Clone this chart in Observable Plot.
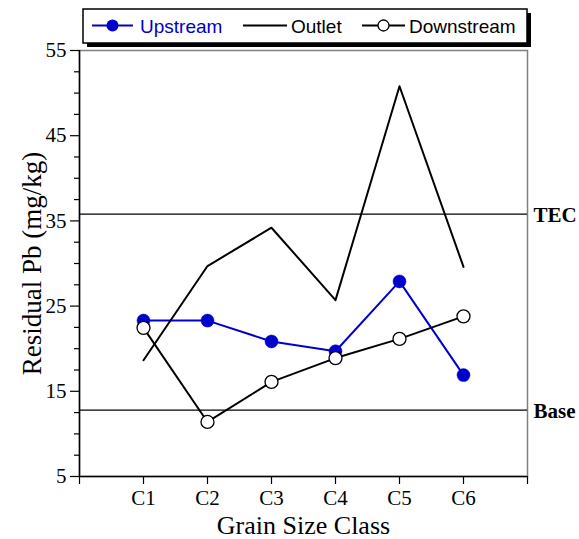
<!DOCTYPE html>
<html>
<head>
<meta charset="utf-8">
<script src="https://cdn.jsdelivr.net/npm/d3@7"></script>
<script src="https://cdn.jsdelivr.net/npm/@observablehq/plot@0.6"></script>
<style>
  body { margin: 0; background: #fff; }
  #chart { position: relative; width: 579px; height: 539px; }
  #legend { position: absolute; left: 0; top: 0; }
</style>
</head>
<body>
<div id="chart"></div>
<script>
// Residual Pb (mg/kg) by grain size class at three sampling sites
const classes = ["C1", "C2", "C3", "C4", "C5", "C6"];
const upstream = [23.3, 23.3, 20.85, 19.7, 27.9, 16.9];
const outlet = [18.65, 29.7, 34.2, 25.7, 50.8, 29.6];
const downstream = [22.45, 11.4, 16.1, 18.9, 21.15, 23.8];
const seriesNames = ["Upstream", "Outlet", "Downstream"];
const yMajorTicks = [5, 15, 25, 35, 45, 55];
const yMinorTicks = [7.5, 10, 12.5, 17.5, 20, 22.5, 27.5, 30, 32.5, 37.5, 40, 42.5, 47.5, 50, 52.5];
const thresholdLabels = ["TEC", "Base"];
const thresholdValues = [35.8, 12.8];

const blue = "#0000cc";
const serif = "'Liberation Serif', 'Times New Roman', serif";
const sans = "'Liberation Sans', Arial, sans-serif";

const rows = (values) => classes.map((c, i) => ({cls: c, pos: i + 1, value: values[i]}));
const upRows = rows(upstream);
const outRows = rows(outlet);
const downRows = rows(downstream);
const thresholds = thresholdLabels.map((label, i) => ({label, value: thresholdValues[i]}));

const W = 579, H = 539;
const mL = 79, mR = 52, mT = 50, mB = 63;

const chart = Plot.plot({
  width: W,
  height: H,
  marginLeft: mL,
  marginRight: mR,
  marginTop: mT,
  marginBottom: mB,
  style: {fontFamily: serif, fontSize: "21px", color: "#000", background: "#fff", overflow: "visible"},
  x: {type: "linear", domain: [0, 7], axis: null},
  y: {type: "linear", domain: [5, 55], axis: null},
  marks: [
    Plot.frame({stroke: "#808080", strokeWidth: 1.5}),
    // threshold reference lines
    Plot.ruleY(thresholds, {y: "value", stroke: "#000", strokeWidth: 1.2}),
    Plot.text(thresholds, {x: 7, y: "value", text: "label", textAnchor: "start", lineAnchor: "middle",
      dx: 6, dy: 1.5, fontWeight: "bold", fontSize: 21, fill: "#000"}),
    // axes
    Plot.axisY(yMinorTicks, {tickSize: 5, tickFormat: () => "", label: null, strokeWidth: 1.2}),
    Plot.axisY(yMajorTicks, {tickSize: 9, tickPadding: 4, label: null, fontSize: 21, strokeWidth: 1.2}),
    Plot.axisX(d3.range(0, 8), {tickSize: 8, tickPadding: 6, label: null, fontSize: 21, strokeWidth: 1.2,
      tickFormat: (d) => (d >= 1 && d <= classes.length ? classes[d - 1] : "")}),
    Plot.ruleX([0], {stroke: "#000", strokeWidth: 1.5}),
    Plot.ruleY([5], {stroke: "#000", strokeWidth: 1.5}),
    // axis titles
    Plot.text(["Grain Size Class"], {frameAnchor: "bottom", textAnchor: "middle", lineAnchor: "middle",
      dy: 49, fontSize: 26, fill: "#000"}),
    Plot.text(["Residual Pb (mg/kg)"], {frameAnchor: "left", textAnchor: "middle", lineAnchor: "middle",
      dx: -47, rotate: -90, fontSize: 27, fill: "#000"}),
    // series
    Plot.line(upRows, {x: "pos", y: "value", stroke: blue, strokeWidth: 2}),
    Plot.dot(upRows, {x: "pos", y: "value", r: 6.5, fill: blue, stroke: blue, strokeWidth: 0.5}),
    Plot.line(outRows, {x: "pos", y: "value", stroke: "#000", strokeWidth: 2}),
    Plot.line(downRows, {x: "pos", y: "value", stroke: "#000", strokeWidth: 2}),
    Plot.dot(downRows, {x: "pos", y: "value", r: 6.5, fill: "#fff", stroke: "#000", strokeWidth: 1.3})
  ]
});

const holder = document.getElementById("chart");
holder.appendChild(chart);

// Legend box with drop shadow
const legend = d3.create("svg")
  .attr("id", "legend")
  .attr("width", W)
  .attr("height", 50);

legend.append("rect").attr("x", 87).attr("y", 13).attr("width", 444).attr("height", 34).attr("fill", "#000");
legend.append("rect").attr("x", 83).attr("y", 9).attr("width", 444).attr("height", 34)
  .attr("fill", "#fff").attr("stroke", "#000").attr("stroke-width", 1.5);

const items = [
  {name: seriesNames[0], color: blue, x1: 92, x2: 133, marker: "filled", tx: 140},
  {name: seriesNames[1], color: "#000", x1: 243, x2: 287, marker: null, tx: 291},
  {name: seriesNames[2], color: "#000", x1: 362, x2: 405, marker: "open", tx: 409}
];
const ly = 25.5;
for (const it of items) {
  const g = legend.append("g");
  g.append("line").attr("x1", it.x1).attr("x2", it.x2).attr("y1", ly).attr("y2", ly)
    .attr("stroke", it.color).attr("stroke-width", 2);
  const cx = (it.x1 + it.x2) / 2;
  if (it.marker === "filled") {
    g.append("circle").attr("cx", cx).attr("cy", ly).attr("r", 6).attr("fill", it.color);
  } else if (it.marker === "open") {
    g.append("circle").attr("cx", cx).attr("cy", ly).attr("r", 5.5)
      .attr("fill", "#fff").attr("stroke", "#000").attr("stroke-width", 1.3);
  }
  g.append("text").attr("x", it.tx).attr("y", 32.5)
    .attr("font-family", sans).attr("font-size", 19).attr("fill", it.color)
    .text(it.name);
}
holder.appendChild(legend.node());
</script>
</body>
</html>
